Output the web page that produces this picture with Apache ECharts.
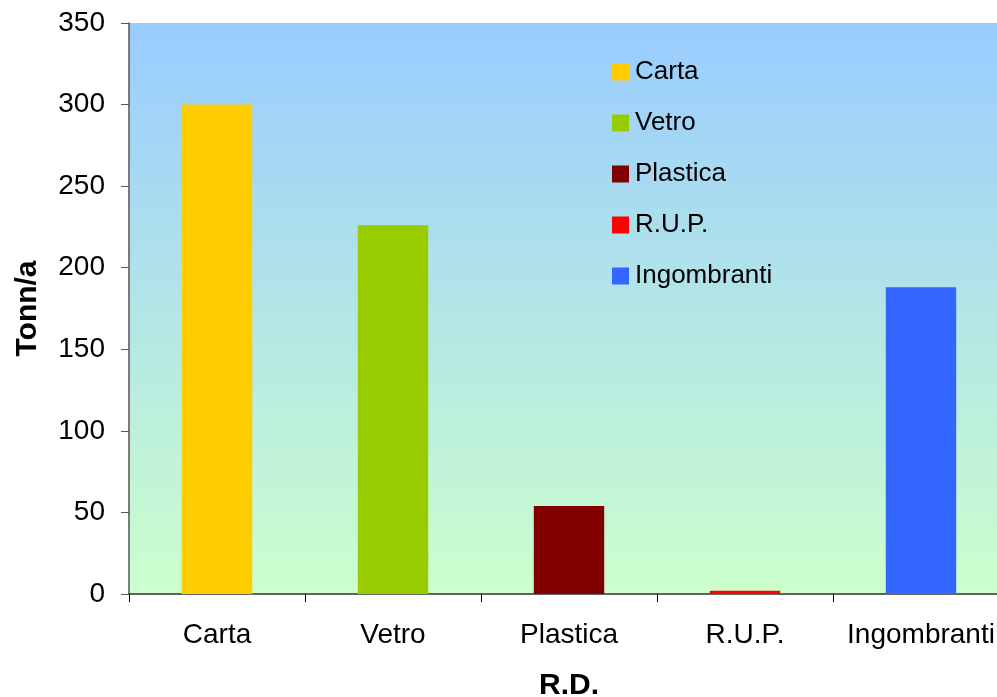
<!DOCTYPE html>
<html>
<head>
<meta charset="utf-8">
<script src="https://cdn.jsdelivr.net/npm/echarts@6/dist/echarts.min.js"></script>
<style>html,body{margin:0;padding:0;background:#fff;overflow:hidden}#c{width:997px;height:697px}</style>
</head>
<body>
<div id="c"></div>
<script>
const categories = ['Carta', 'Vetro', 'Plastica', 'R.U.P.', 'Ingombranti'];
const values = [300, 226, 54, 2, 188];
const colors = ['#FFCC00', '#99CC00', '#800000', '#FF0000', '#3366FF'];
const yTicks = [0, 50, 100, 150, 200, 250, 300, 350];

const series = categories.map((name, i) => ({
  name: name,
  type: 'bar',
  stack: 'all',
  barWidth: '40%',
  itemStyle: { color: colors[i] },
  data: categories.map((c, j) => (j === i ? values[i] : '-'))
}));

const FONT = 'Liberation Sans, Arial, sans-serif';
const chart = echarts.init(document.getElementById('c'));
chart.setOption({
  animation: false,
  textStyle: { fontFamily: FONT },
  grid: {
    left: 129, top: 23, width: 880, height: 571,
    outerBoundsMode: 'none',
    containLabel: false,
    show: true, borderWidth: 0,
    backgroundColor: new echarts.graphic.LinearGradient(0, 0, 0, 1, [
      { offset: 0, color: '#99CCFF' },
      { offset: 1, color: '#CCFFCC' }
    ])
  },
  legend: {
    orient: 'vertical',
    left: 612, top: 59,
    padding: 0,
    itemWidth: 17, itemHeight: 17,
    itemGap: 25,
    icon: 'rect',
    textStyle: { fontSize: 26, lineHeight: 26, color: '#000', fontFamily: FONT, padding: [0, 0, 0, 1] },
    data: categories
  },
  xAxis: {
    type: 'category',
    data: categories,
    boundaryGap: true,
    name: 'R.D.',
    nameLocation: 'middle',
    nameGap: 77,
    nameTextStyle: { fontSize: 30, fontWeight: 'bold', color: '#000', fontFamily: FONT },
    axisLine: { lineStyle: { color: '#333', width: 1.5 } },
    axisTick: { show: true, interval: 0, length: 8, alignWithLabel: false, lineStyle: { color: '#000' } },
    axisLabel: { interval: 0, hideOverlap: false, fontSize: 28, color: '#000', margin: 27, fontFamily: FONT }
  },
  yAxis: {
    type: 'value',
    min: yTicks[0], max: yTicks[yTicks.length - 1], interval: 50,
    name: 'Tonn/a',
    nameLocation: 'middle',
    nameGap: 86,
    nameRotate: 90,
    nameTextStyle: { fontSize: 30, fontWeight: 'bold', color: '#000', fontFamily: FONT },
    axisLine: { show: true, lineStyle: { color: '#555', width: 1.5 } },
    axisTick: { show: true, length: 8, lineStyle: { color: '#555' } },
    axisLabel: { fontSize: 28, color: '#000', margin: 24, fontFamily: FONT },
    splitLine: { show: false }
  },
  series: series
});
</script>
</body>
</html>
